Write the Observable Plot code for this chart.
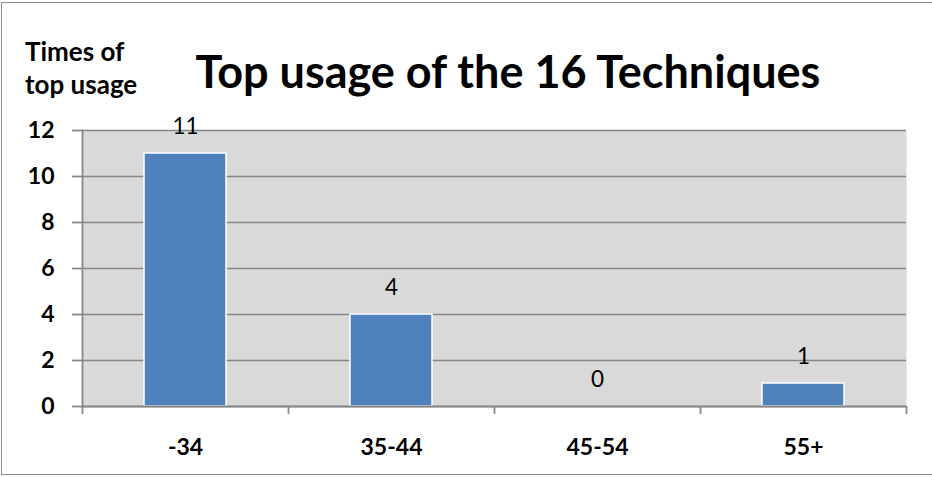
<!DOCTYPE html>
<html>
<head>
<meta charset="utf-8">
<script src="https://cdn.jsdelivr.net/npm/d3@7"></script>
<script src="https://cdn.jsdelivr.net/npm/@observablehq/plot@0.6"></script>
<style>
  html, body { margin: 0; padding: 0; background: #fff; }
  #wrap { position: relative; width: 932px; height: 477px; overflow: hidden; font-family: Lato, "Open Sans", sans-serif; }
  #border { position: absolute; left: 1px; top: 2px; width: 940px; height: 473px; border: 1.5px solid #8e8e8e; box-sizing: border-box; }
  #title { position: absolute; left: 110px; width: 796px; top: 44px; text-align: center; font-weight: 700; font-size: 45px; line-height: 54px; color: #000; }
  #ylabel { position: absolute; left: 25px; top: 35px; font-weight: 700; font-size: 26px; line-height: 33px; color: #000; }
  #chart { position: absolute; left: 0; top: 0; }
  #chart svg g.bold-ticks text { font-weight: 700 !important; }
</style>
</head>
<body>
<div id="wrap">
  <div id="chart"></div>
  <div id="border"></div>
  <div id="title">Top usage of the 16 Techniques</div>
  <div id="ylabel">Times of<br>top usage</div>
</div>
<script>
const categories = ["-34", "35-44", "45-54", "55+"];
const values = [11, 4, 0, 1];
const yTicks = [0, 2, 4, 6, 8, 10, 12];

const data = categories.map((c, i) => ({category: c, value: values[i]}));

const W = 932, H = 477, mL = 82, mR = 26, mT = 130, mB = 71;
const step = (W - mL - mR) / categories.length;
const lastCat = [categories[categories.length - 1]];

const chart = Plot.plot({
  width: W, height: H,
  marginLeft: mL, marginRight: mR, marginTop: mT, marginBottom: mB,
  style: {fontFamily: "Lato, 'Open Sans', sans-serif", background: "transparent", color: "#000"},
  x: {domain: categories, paddingInner: 0.6, paddingOuter: 0.3, label: null},
  y: {domain: [0, 12], label: null},
  marks: [
    Plot.frame({fill: "#d9d9d9", stroke: null}),
    Plot.gridY(yTicks, {stroke: "#878787", strokeOpacity: 1, strokeWidth: 1.6}),
    Plot.barY(data, {x: "category", y: "value", fill: "#4f81bd", stroke: "#ffffff", strokeWidth: 1.5}),
    Plot.text(data, {x: "category", y: "value", text: d => String(d.value), dy: -27, fontSize: 22.5, lineAnchor: "middle", fill: "#000"}),
    Plot.ruleY([0], {stroke: "#878787", strokeWidth: 1.8}),
    Plot.frame({anchor: "left", stroke: "#878787", strokeWidth: 1.8}),
    Plot.ruleX(categories, {x: d => d, dx: -step / 2, y1: 0, y2: 0, insetBottom: -8, stroke: "#878787", strokeWidth: 1.8}),
    Plot.ruleX(lastCat, {x: d => d, dx: step / 2, y1: 0, y2: 0, insetBottom: -8, stroke: "#878787", strokeWidth: 1.8}),
    Plot.axisY(yTicks, {tickSize: 10, tickPadding: 18, fontSize: 23, fontWeight: "bold", stroke: "#878787", strokeWidth: 1.8, label: null}),
    Plot.axisX({tickSize: 0, tickPadding: 32, fontSize: 23, fontWeight: "bold", label: null})
  ]
});
d3.select(chart).selectAll('g[aria-label="y-axis tick label"], g[aria-label="x-axis tick label"]')
  .classed("bold-ticks", true)
  .attr("font-weight", "bold");
document.getElementById("chart").appendChild(chart);
</script>
</body>
</html>
